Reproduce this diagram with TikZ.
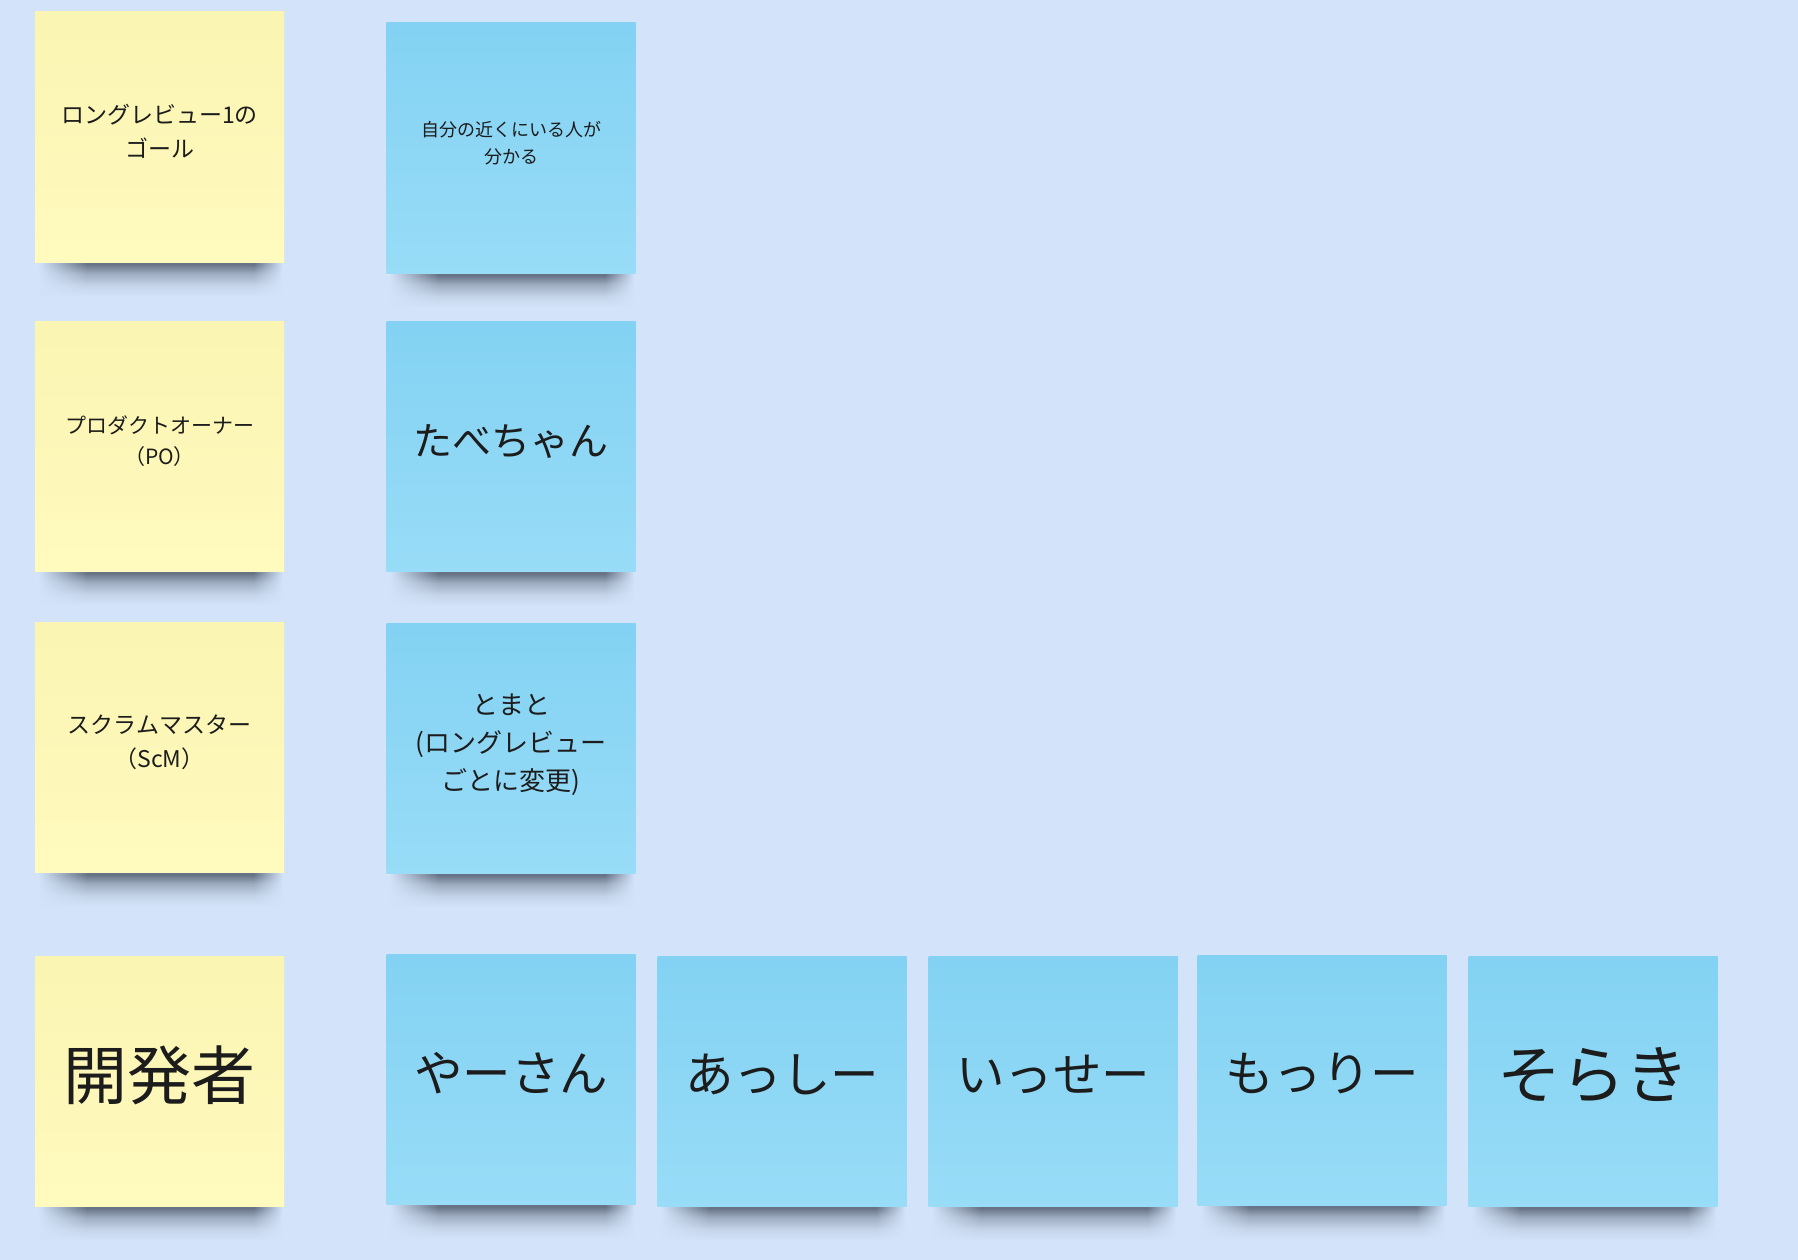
\documentclass[tikz,border=0pt]{standalone}
\usepackage{fontspec}
\setmainfont{Noto Sans CJK JP}
\usetikzlibrary{backgrounds,fadings}

\definecolor{boardbg}{RGB}{211,228,250}
\definecolor{yellowtop}{RGB}{250,245,178}
\definecolor{yellowbot}{RGB}{255,250,190}
\definecolor{bluetop}{RGB}{131,210,243}
\definecolor{bluebot}{RGB}{152,220,247}
\definecolor{inkcol}{RGB}{28,28,28}
\definecolor{shadowdark}{RGB}{104,116,134}
\definecolor{shadowmid}{RGB}{158,172,192}
\definecolor{shadowfaint}{RGB}{196,211,232}

% drop shadow under a note: dark at the edge, soft below
\pgfdeclareverticalshading{notedrop}{100bp}{color(0bp)=(boardbg); color(25bp)=(boardbg);
  color(40bp)=(shadowfaint); color(56bp)=(shadowmid); color(68bp)=(shadowdark); color(100bp)=(shadowdark)}
\pgfdeclarehorizontalshading{notesidesshading}{100bp}{color(0bp)=(transparent!100); color(25bp)=(transparent!100);
  color(35bp)=(transparent!0); color(69bp)=(transparent!0); color(75bp)=(transparent!100); color(100bp)=(transparent!100)}
\pgfdeclarefading{notesides}{\pgfuseshading{notesidesshading}}

\tikzset{
  sticky/.style={minimum width=249pt, minimum height=250pt, inner sep=0pt, align=center, text=inkcol},
  rolenote/.style={sticky, top color=yellowtop, bottom color=yellowbot},
  membernote/.style={sticky, top color=bluetop, bottom color=bluebot},
  lift/.style={text depth=#1},
}

\begin{document}
\begin{tikzpicture}[x=1pt,y=-1pt]
      \useasboundingbox (0,0) rectangle (1798,1260);

      % left column: roles
      \node[rolenote, lift=12pt, font={\fontsize{23}{34}\selectfont}] (goal) at (159.5,137) {ロングレビュー1の\\ゴール};
      \node[rolenote, lift=11.5pt, font={\fontsize{21}{31}\selectfont}] (po) at (159.5,446) {プロダクトオーナー\\（PO）};
      \node[rolenote, lift=12pt, font={\fontsize{23}{34}\selectfont}] (scm) at (159.5,747.5) {スクラムマスター\\（ScM）};
      \node[rolenote, lift=17pt, font={\fontsize{64}{70}\selectfont}] (dev) at (159.5,1081) {開発者};

      % second column: people
      \node[membernote, lift=11pt, font={\fontsize{18}{27}\selectfont}] (near) at (511,148) {自分の近くにいる人が\\分かる};
      \node[membernote, lift=14pt, font={\fontsize{39}{44}\selectfont}] (tabe) at (511,446.5) {たべちゃん};
      \node[membernote, lift=12pt, font={\fontsize{26}{38}\selectfont}] (tomato) at (511,748) {とまと\\(ロングレビュー\\ごとに変更)};

      % bottom row: developers
      \node[membernote, lift=15pt, font={\fontsize{48.5}{54}\selectfont}] (ya) at (511,1079.5) {やーさん};
      \node[membernote, lift=15pt, font={\fontsize{48.5}{54}\selectfont}] (asshi) at (782,1081) {あっしー};
      \node[membernote, lift=15pt, font={\fontsize{48.5}{54}\selectfont}] (isse) at (1053,1081) {いっせー};
      \node[membernote, lift=15pt, font={\fontsize{48.5}{54}\selectfont}] (morri) at (1322,1080) {もっりー};
      \node[membernote, lift=17pt, font={\fontsize{64}{70}\selectfont}] (soraki) at (1593,1081) {そらき};

      \begin{scope}[on background layer]
        \fill[boardbg] (0,0) rectangle (1798,1260);
        \foreach \n in {goal,po,scm,dev,near,tabe,tomato,ya,asshi,isse,morri,soraki} {
          \shade[shading=notedrop, path fading=notesides]
            ([xshift=4pt,yshift=3pt]\n.south west) rectangle ([xshift=-2pt,yshift=-34pt]\n.south east);
        }
      \end{scope}
    \end{tikzpicture}
\end{document}
